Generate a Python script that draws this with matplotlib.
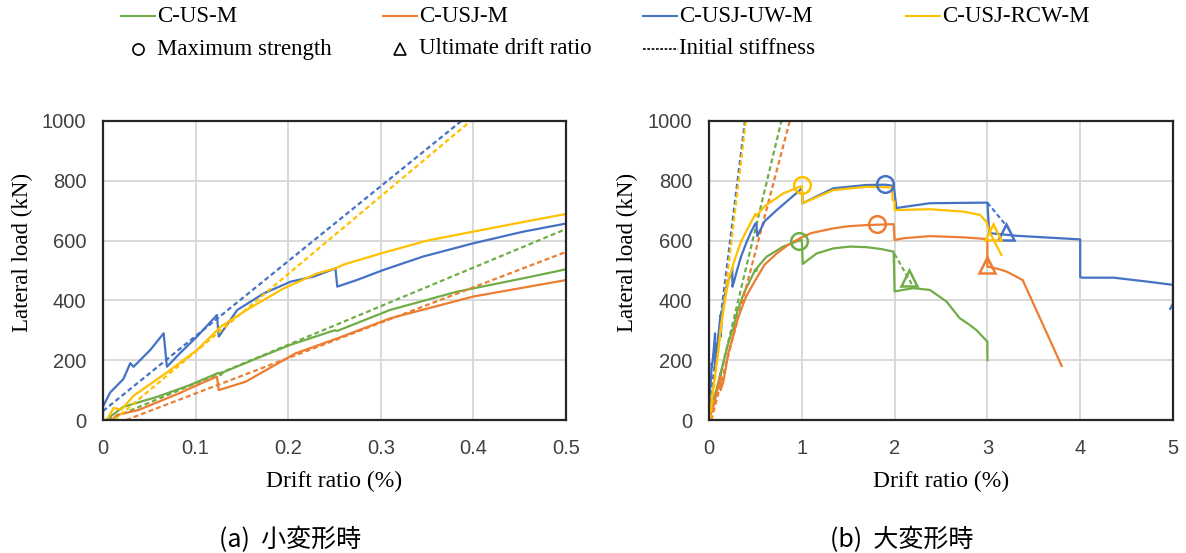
import numpy as np
import matplotlib
matplotlib.use("Agg")
import matplotlib.pyplot as plt
from matplotlib.lines import Line2D

# drift ratio (%) / lateral load (kN)
us_d = [0.003, 0.022, 0.058, 0.094, 0.125, 0.127, 0.13, 0.166, 0.202, 0.25, 0.253, 0.31, 0.382,
        0.454, 0.5, 0.51, 0.52, 0.62, 0.8, 0.9, 0.97, 1.0, 1.01, 1.16, 1.34, 1.52, 1.7, 1.85,
        1.99, 2.0, 2.2, 2.38, 2.56, 2.7, 2.8, 2.88, 3.0, 3.0]
us_p = [0, 44, 77, 117, 158, 150, 160, 206, 251, 300, 298, 368, 429,
        474, 504, 498, 510, 546, 580, 592, 600, 602, 522, 557, 574, 580, 578, 572,
        563, 430, 441, 435, 396, 341, 320, 301, 262, 200]

usj_d = [0.01, 0.015, 0.038, 0.082, 0.11, 0.123, 0.125, 0.154, 0.208, 0.253, 0.31, 0.4, 0.5,
         0.6, 0.73, 0.85, 0.98, 1.1, 1.34, 1.5, 1.7, 1.99, 2.0, 2.1, 2.38, 2.74, 3.0, 3.0,
         3.12, 3.21, 3.38, 3.8]
usj_p = [0, 17, 33, 89, 128, 145, 100, 128, 223, 273, 340, 413, 468,
         520, 557, 585, 608, 625, 641, 648, 652, 655, 602, 608, 615, 611, 605, 513,
         505, 496, 468, 181]

uw_d = [0, 0, 0.0077, 0.022, 0.0295, 0.033, 0.051, 0.0655, 0.069, 0.083, 0.1015, 0.123, 0.125,
        0.145, 0.174, 0.203, 0.228, 0.251, 0.253, 0.274, 0.303, 0.346, 0.4, 0.454, 0.5, 0.51,
        0.52, 0.6, 0.73, 0.98, 1.0, 1.01, 1.34, 1.7, 1.9, 1.99, 2.0, 2.02, 2.38, 2.99, 3.0,
        3.02, 3.32, 4.0, 4.0, 4.02, 4.36, 4.72, 5.0, 5.0, 4.97]
uw_p = [0, 45, 92, 137, 190, 178, 234, 290, 178, 223, 279, 351, 279,
        368, 424, 463, 480, 507, 446, 468, 502, 547, 591, 630, 657, 658,
        615, 665, 702, 769, 775, 725, 775, 786, 787, 783, 760, 709, 725, 727, 727,
        625, 616, 604, 478, 476, 476, 463, 452, 390, 372]

rcw_d = [0.004, 0.0115, 0.02, 0.033, 0.069, 0.1015, 0.127, 0.155, 0.195, 0.231, 0.251, 0.26,
         0.3, 0.35, 0.4, 0.45, 0.5, 0.51, 0.53, 0.6, 0.8, 0.98, 1.0, 1.01, 1.34, 1.7, 1.97,
         1.98, 2.0, 2.0, 2.38, 2.74, 2.92, 2.99, 3.03, 3.15]
rcw_p = [0, 40, 35, 81, 159, 234, 312, 368, 440, 490, 507, 520,
         557, 600, 630, 660, 689, 683, 690, 715, 758, 780, 782, 725, 769, 780, 778,
         736, 730, 702, 705, 697, 686, 663, 625, 552]

# initial stiffness lines (end points)
us_k_d, us_k_p = [0.005, 0.78], [0, 1000]
usj_k_d, usj_k_p = [0.025, 0.87], [0, 1000]
uw_k_d, uw_k_p = [0.0, 0.387], [30, 1000]
rcw_k_d, rcw_k_p = [0.012, 0.397], [0, 1000]

# maximum strength (circles) and ultimate drift (triangles)
max_d = [0.97, 1.81, 1.9, 1.0]
max_p = [599, 655, 790, 787]
ult_d = [2.15, 3.0, 3.2, 3.06]
ult_p = [475, 520, 630, 630]

# dashed links to ultimate points
us_link_d, us_link_p = [2.0, 2.2], [555, 446]
uw_link_d, uw_link_p = [3.0, 3.23], [727, 640]

names = ["C-US-M", "C-USJ-M", "C-USJ-UW-M", "C-USJ-RCW-M"]
colors = ["#70AD47", "#ED7D31", "#4472C4", "#FFC000"]

curves = [(us_d, us_p), (usj_d, usj_p), (uw_d, uw_p), (rcw_d, rcw_p)]
stiff = [(us_k_d, us_k_p), (usj_k_d, usj_k_p), (uw_k_d, uw_k_p), (rcw_k_d, rcw_k_p)]

SERIF = "Liberation Serif"
SANS = "Liberation Sans"
W, H = 1186, 553

fig = plt.figure(figsize=(W / 100, H / 100), dpi=100)
ax1 = fig.add_axes([103 / W, 1 - 420 / H, (566 - 103) / W, 299 / H])
ax2 = fig.add_axes([709 / W, 1 - 420 / H, (1173 - 709) / W, 299 / H])

dash = (0, (2.2, 1.4))
for ax in (ax1, ax2):
    for (d, p), (kd, kp), c in zip(curves, stiff, colors):
        ax.plot(kd, kp, color=c, lw=1.6, linestyle=dash)
        ax.plot(d, p, color=c, lw=1.6)
    ax.set_ylim(0, 1000)
    ax.set_yticks(np.arange(0, 1001, 200))
    ax.grid(True, color="#d9d9d9", lw=1.4)
    ax.set_axisbelow(True)
    for s in ax.spines.values():
        s.set_color("#262626")
        s.set_linewidth(1.6)
    ax.tick_params(length=0, labelsize=14.5, labelcolor="#404040")
    ax.tick_params(axis="x", pad=14)
    ax.tick_params(axis="y", pad=12)
    for lab in ax.get_xticklabels() + ax.get_yticklabels():
        lab.set_fontfamily(SANS)
    ax.set_xlabel("Drift ratio (%)", fontfamily=SERIF, fontsize=17, labelpad=9)
    ax.set_ylabel("Lateral load (kN)", fontfamily=SERIF, fontsize=16.5)
    ax.yaxis.set_label_coords(-0.152, 0.56)

ax1.set_xlim(0, 0.5)
ax1.set_xticks(np.arange(0, 0.51, 0.1))
ax1.set_xticklabels(["0", "0.1", "0.2", "0.3", "0.4", "0.5"], fontfamily=SANS)
ax2.set_xlim(0, 5)
ax2.set_xticks(range(6))
ax2.set_xticklabels([str(i) for i in range(6)], fontfamily=SANS)

ax2.plot(us_link_d, us_link_p, color=colors[0], lw=1.5, linestyle=dash)
ax2.plot(uw_link_d, uw_link_p, color=colors[2], lw=1.5, linestyle=dash)
for i, c in enumerate(colors):
    ax2.plot(max_d[i], max_p[i], "o", ms=12, mfc="none", mec=c, mew=1.8, clip_on=False)
    ax2.plot(ult_d[i], ult_p[i], "^", ms=12, mfc="none", mec=c, mew=1.8, clip_on=False)

# legend built by hand at the top
def px(x, y):
    return x / W, 1 - y / H

def entry(x0, y, text, kind, color="black"):
    if kind == "line":
        xa, ya = px(x0, y)
        xb, _ = px(x0 + 34, y)
        fig.add_artist(Line2D([xa, xb], [ya, ya], color=color, lw=1.5))
    elif kind == "dash":
        xa, ya = px(x0, y)
        xb, _ = px(x0 + 35, y)
        fig.add_artist(Line2D([xa, xb], [ya, ya], color=color, lw=1.2, linestyle=(0, (1.6, 1.0))))
    else:
        xa, ya = px(x0 + 17, y)
        fig.add_artist(Line2D([xa], [ya], marker=kind, ms=8, mfc="none", mec=color, mew=1.2))
    tx, ty = px(x0 + 36, y)
    fig.text(tx, ty, text, fontfamily=SERIF, fontsize=16.5, va="center", ha="left")

leg_x = [121, 383, 643, 906]
for x, n, c in zip(leg_x, names, colors):
    entry(x, 16, n, "line", c)
entry(leg_x[0], 49, "Maximum strength", "o")
entry(leg_x[1], 49, "Ultimate drift ratio", "^")
entry(leg_x[2], 49, "Initial stiffness", "dash")

cjk = ["Noto Sans CJK JP", "DejaVu Sans"]
fig.text(290 / W, 1 - 540 / H, "(a)  小変形時", fontfamily=cjk, fontsize=18, ha="center", va="center")
fig.text(902 / W, 1 - 540 / H, "(b)  大変形時", fontfamily=cjk, fontsize=18, ha="center", va="center")

fig.savefig("out.png", dpi=100)
